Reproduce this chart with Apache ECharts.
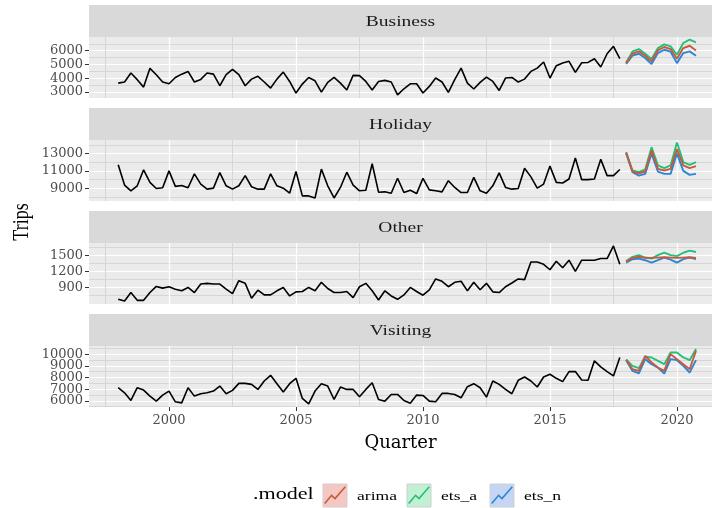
<!DOCTYPE html>
<html><head><meta charset="utf-8">
<script src="https://cdn.jsdelivr.net/npm/echarts@6/dist/echarts.min.js"></script>
<style>html,body{margin:0;padding:0;background:#fff}#c{width:725px;height:508px}</style>
</head><body><div id="c"></div><script>
// ---- data ----
const startYear = 1998;            // first observation: 1998 Q1
const facetNames = ['Business', 'Holiday', 'Other', 'Visiting'];
const modelNames = ['arima', 'ets_a', 'ets_n'];

const businessActual = [3650,3730,4380,3900,3360,4720,4260,3730,3600,4060,
  4300,4500,3730,3920,4380,4300,3460,4260,4650,4260,
  3460,3940,4140,3730,3290,3940,4450,3770,2930,3580,
  4060,3820,3000,3700,4060,3650,3150,4210,4190,3770,
  3150,3770,3850,3730,2800,3240,3600,3600,2930,3410,
  4020,3730,2980,3900,4740,3650,3220,3700,4090,3770,
  3120,4020,4060,3730,3940,4500,4740,5180,4020,4910,
  5110,5230,4430,5130,5150,5420,4820,5780,6320,5420];
const businessArima = [5100,5780,5950,5640,5230,6020,6270,6120,5420,6190,6360,6020];
const businessEtsA  = [5150,5950,6120,5780,5400,6190,6460,6320,5710,6560,6800,6610];
const businessEtsN  = [5050,5640,5780,5470,5030,5830,6070,5930,5100,5830,5950,5640];

const holidayActual = [11705,9350,8690,9270,11120,9670,8960,9040,11000,9200,
  9310,9040,10650,9470,8880,9000,10800,9270,8880,9270,
  10450,9160,8880,8880,10650,9270,9000,8410,10920,8100,
  8100,7860,11200,9270,7860,9080,10840,9350,8690,8760,
  11820,8530,8570,8410,10140,8490,8760,8370,10140,8800,
  8690,8570,9860,9080,8490,8490,10250,8690,8410,9270,
  10760,9080,8880,8960,11310,10300,9000,9470,11550,9670,
  9590,10060,12490,9980,9980,10060,12330,10450,10450,11160];
const holidayArima = [13100,10920,10720,10920,13390,11230,11040,11230,13510,11630,11310,11550];
const holidayEtsA  = [13180,11040,10840,11160,13740,11630,11310,11630,14290,12020,11700,12020];
const holidayEtsN  = [13000,10840,10450,10650,13000,10920,10650,10650,13000,11000,10530,10650];

const otherActual = [679,647,805,660,660,805,919,887,913,868,
  837,900,805,963,976,963,963,868,786,1026,
  976,698,849,761,761,837,900,742,818,824,
  900,837,995,881,805,805,824,710,913,976,
  837,666,837,742,679,761,900,824,755,856,
  1058,1014,913,995,1014,837,995,856,976,818,
  805,913,982,1058,1045,1374,1374,1330,1229,1387,
  1267,1406,1197,1406,1406,1406,1437,1437,1671,1330];
const otherArima = [1380,1450,1470,1450,1450,1455,1460,1455,1450,1455,1460,1450];
const otherEtsA  = [1390,1469,1500,1456,1437,1500,1545,1500,1481,1545,1583,1558];
const otherEtsN  = [1360,1425,1437,1406,1361,1406,1456,1418,1361,1425,1456,1425];

const visitingActual = [7123,6691,6029,7123,6922,6403,5971,6490,6835,5914,
  5827,7123,6403,6605,6691,6835,7267,6605,6893,7498,
  7498,7411,6979,7699,8189,7469,6749,7469,7930,6202,
  5741,6835,7469,7267,6115,7181,6979,6979,6346,6979,
  7555,6115,5971,6547,6547,6029,5798,6490,6461,5971,
  5914,6634,6634,6547,6259,7210,7469,7123,6317,7699,
  7411,6979,6605,7757,8045,7699,7181,8045,8275,7930,
  7642,8506,8506,7786,7757,9427,8909,8506,8131,9715];
const visitingArima = [9514,8707,8563,9859,9283,8851,8563,10003,9571,9139,8707,10291];
const visitingEtsA  = [9540,8995,8794,9773,9715,9427,9139,10147,10147,9715,9485,10435];
const visitingEtsN  = [9485,8563,8362,9571,9139,8851,8333,9571,9485,8995,8419,9485];

// axis ticks
const xTicks = [2000, 2005, 2010, 2015, 2020];
const xMinorTicks = [1997.5, 2002.5, 2007.5, 2012.5, 2017.5];
const xRange = [1996.85, 2021.38];
const businessTicks = [3000, 4000, 5000, 6000];
const businessMinor = [3500, 4500, 5500, 6500];
const businessRange = [2570, 6995];
const holidayTicks = [9000, 11000, 13000];
const holidayMinor = [8000, 10000, 12000, 14000];
const holidayRange = [7510, 14570];
const otherTicks = [900, 1200, 1500];
const otherMinor = [750, 1050, 1350, 1650];
const otherRange = [592, 1726];
const visitingTicks = [6000, 7000, 8000, 9000, 10000];
const visitingMinor = [5500, 6500, 7500, 8500, 9500, 10500];
const visitingRange = [5470, 10700];

// ---- assemble ----
const facets = [
  {actual: businessActual, fc: [businessArima, businessEtsA, businessEtsN], ticks: businessTicks, minor: businessMinor, range: businessRange},
  {actual: holidayActual, fc: [holidayArima, holidayEtsA, holidayEtsN], ticks: holidayTicks, minor: holidayMinor, range: holidayRange},
  {actual: otherActual, fc: [otherArima, otherEtsA, otherEtsN], ticks: otherTicks, minor: otherMinor, range: otherRange},
  {actual: visitingActual, fc: [visitingArima, visitingEtsA, visitingEtsN], ticks: visitingTicks, minor: visitingMinor, range: visitingRange}
];

const modelColors = ['#C8593F', '#26BF7A', '#2A86D6'];
const modelFills = ['#F4C7C2', '#C2F0D3', '#C4D6F4'];
const panelTops = [37, 140, 243, 346];
const panelH = 61, panelL = 89, panelR = 712, stripH = 32;
const serif = '"DejaVu Serif", serif';
const plain = v => String(v);

function majorY(i, f, ticks) {
  return {type: 'value', gridIndex: i, position: 'left', offset: 0, min: f.range[0], max: f.range[1],
    axisLine: {show: false},
    axisTick: {show: true, customValues: ticks, length: 4, lineStyle: {color: '#333333', width: 1}},
    axisLabel: {show: true, customValues: ticks, margin: 6, color: '#4D4D4D', fontFamily: serif, fontSize: 13, formatter: plain,
      hideOverlap: false, showMinLabel: true, showMaxLabel: true},
    splitLine: {show: true, lineStyle: {color: '#FFFFFF', width: 1.2}}};
}

const grids = [], xAxes = [], yAxes = [], series = [], graphics = [];
facets.forEach((f, i) => {
  grids.push({left: panelL, right: 725 - panelR, top: panelTops[i], height: panelH,
    show: true, backgroundColor: '#EBEBEB', borderWidth: 0, containLabel: false, outerBoundsMode: 'none'});
  const last = i === facets.length - 1;
  // minor x
  xAxes.push({type: 'value', gridIndex: i, position: 'bottom', offset: 0, min: xRange[0], max: xRange[1],
    axisLine: {show: false}, axisTick: {show: false, customValues: xMinorTicks}, axisLabel: {show: false, customValues: xMinorTicks},
    splitLine: {show: true, lineStyle: {color: '#D6D6D6', width: 1}}});
  // major x
  xAxes.push({type: 'value', gridIndex: i, position: 'bottom', offset: 0, min: xRange[0], max: xRange[1],
    axisLine: {show: false},
    axisTick: {show: last, customValues: xTicks, length: 4, lineStyle: {color: '#333333', width: 1}},
    axisLabel: {show: last, customValues: xTicks, margin: 7, color: '#4D4D4D', fontFamily: serif, fontSize: 13, formatter: plain,
      hideOverlap: false, showMinLabel: true, showMaxLabel: true},
    splitLine: {show: true, lineStyle: {color: '#FFFFFF', width: 1.2}},
    name: last ? 'Quarter' : '', nameLocation: 'middle', nameGap: 27,
    nameTextStyle: {color: '#000', fontFamily: serif, fontSize: 18}});
  // minor y
  yAxes.push({type: 'value', gridIndex: i, position: 'left', offset: 0, min: f.range[0], max: f.range[1],
    axisLine: {show: false}, axisTick: {show: false, customValues: f.minor}, axisLabel: {show: false, customValues: f.minor},
    splitLine: {show: true, lineStyle: {color: '#D6D6D6', width: 1}}});
  // major y, split in two alternating sets so tightly spaced labels are all drawn
  yAxes.push(majorY(i, f, f.ticks.filter((_, k) => k % 2 === 1)));
  yAxes.push(majorY(i, f, f.ticks.filter((_, k) => k % 2 === 0)));

  const xi = 2 * i + 1, yi = 3 * i + 2;
  series.push({type: 'line', name: facetNames[i] + ' actual', xAxisIndex: xi, yAxisIndex: yi,
    data: f.actual.map((v, k) => [startYear + k / 4, v]), symbol: 'none', silent: true,
    lineStyle: {color: '#000000', width: 1.6}, z: 3});
  f.fc.forEach((vals, m) => {
    series.push({type: 'line', name: modelNames[m], xAxisIndex: xi, yAxisIndex: yi,
      data: vals.map((v, k) => [startYear + (f.actual.length + k) / 4, v]), symbol: 'none', silent: true,
      lineStyle: {color: modelColors[m], width: 1.9}, z: 4 + (2 - m)});
  });

  // facet strip
  graphics.push({type: 'rect', shape: {x: panelL, y: panelTops[i] - stripH, width: panelR - panelL, height: stripH},
    style: {fill: '#D9D9D9'}, silent: true});
  graphics.push({type: 'text', x: (panelL + panelR) / 2, y: panelTops[i] - stripH / 2 + 1, scaleX: 1.3,
    style: {text: facetNames[i], fill: '#1A1A1A', font: '15px "Liberation Serif"', textAlign: 'center', textVerticalAlign: 'middle'}, silent: true});
});

// y axis title
graphics.push({type: 'text', x: 22, y: (panelTops[0] + panelTops[3] + panelH) / 2, rotation: Math.PI / 2, scaleY: 1.3,
  style: {text: 'Trips', fill: '#000', font: '18px "Liberation Serif"', textAlign: 'center', textVerticalAlign: 'middle'}, silent: true});

// legend
graphics.push({type: 'text', x: 253, y: 495, scaleX: 1.3,
  style: {text: '.model', fill: '#000', font: '17px "Liberation Serif"', textAlign: 'left', textVerticalAlign: 'middle'}, silent: true});
const legX = [323, 407, 490];
modelNames.forEach((nm, m) => {
  const bx = legX[m], by = 484, bw = 24, bh = 23;
  graphics.push({type: 'rect', shape: {x: bx, y: by, width: bw, height: bh},
    style: {fill: modelFills[m], stroke: '#D0D0D0', lineWidth: 1}, silent: true});
  graphics.push({type: 'polyline', shape: {points: [[bx + 1.7, by + 19.5], [bx + 8.6, by + 11.3], [bx + 12, by + 14.5], [bx + 22.3, by + 2.8]]},
    style: {stroke: modelColors[m], lineWidth: 1.6, fill: null}, silent: true});
  graphics.push({type: 'text', x: bx + 34, y: 496, scaleX: 1.3,
    style: {text: nm, fill: '#000', font: '13.5px "Liberation Serif"', textAlign: 'left', textVerticalAlign: 'middle'}, silent: true});
});

const chart = echarts.init(document.getElementById('c'), null, {renderer: 'canvas'});
chart.setOption({
  animation: false,
  backgroundColor: '#FFFFFF',
  grid: grids,
  xAxis: xAxes,
  yAxis: yAxes,
  series: series,
  graphic: {elements: graphics}
});
</script></body></html>
